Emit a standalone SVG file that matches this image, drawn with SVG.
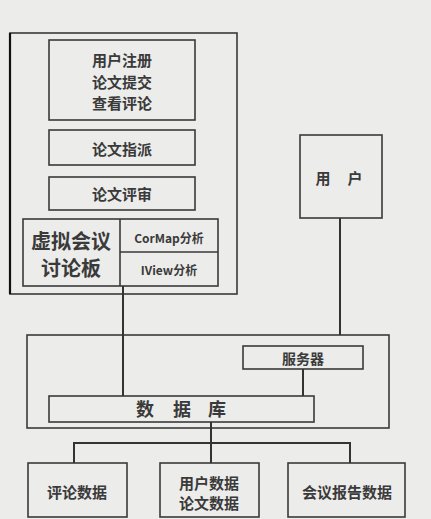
<svg xmlns="http://www.w3.org/2000/svg" width="431" height="519" viewBox="0 0 431 519">
<style>
.b{fill:none;stroke:#3a3a3a;stroke-width:1.6}
.l{stroke:#333;stroke-width:2;fill:none}
text{font-family:"Noto Sans CJK SC","Noto Sans",sans-serif;font-weight:bold;fill:#3a3a3a;text-anchor:middle;dominant-baseline:central}
.t16{font-size:15px}
.t20{font-size:20px}
.t13{font-size:12px}
</style>
<rect width="431" height="519" fill="#ececea"/>
<g id="client">
<rect class="b" x="10" y="33" width="227" height="261"/>
<path d="M10 33V294" stroke="#111" stroke-width="2.2"/>
</g>
<g id="register">
<rect class="b" x="49" y="40" width="146" height="80"/>
<text class="t16" x="122" y="59">用户注册</text>
<text class="t16" x="122" y="81">论文提交</text>
<text class="t16" x="122" y="102">查看评论</text>
</g>
<g id="assign">
<rect class="b" x="49" y="130" width="146" height="35"/>
<text class="t16" x="122" y="148">论文指派</text>
</g>
<g id="review">
<rect class="b" x="49" y="177" width="146" height="33"/>
<text class="t16" x="122" y="193">论文评审</text>
</g>
<g id="forum">
<rect class="b" x="23" y="219" width="195" height="67"/>
<path class="b" d="M120 219V286M120 252H218"/>
<text class="t20" x="71" y="240">虚拟会议</text>
<text class="t20" x="71" y="267">讨论板</text>
<text class="t13" x="169" y="237">CorMap分析</text>
<text class="t13" x="169" y="269">IView分析</text>
</g>
<g id="user">
<rect class="b" x="300" y="135" width="82" height="83"/>
<text class="t16" x="323" y="177">用</text>
<text class="t16" x="355" y="177">户</text>
</g>
<g id="server-area">
<rect class="b" x="27" y="335" width="362" height="93"/>
</g>
<g id="server">
<rect class="b" x="243" y="346" width="120" height="23"/>
<text class="t16" x="303" y="358" style="font-size:14px">服务器</text>
</g>
<g id="db">
<rect class="b" x="49" y="396" width="265" height="26"/>
<text class="t16" x="145" y="408" style="font-size:18px">数</text>
<text class="t16" x="182" y="408" style="font-size:18px">据</text>
<text class="t16" x="217" y="408" style="font-size:18px">库</text>
</g>
<g id="comments">
<rect class="b" x="28" y="463" width="99" height="54"/>
<text class="t16" x="77" y="491">评论数据</text>
</g>
<g id="userdata">
<rect class="b" x="160" y="463" width="99" height="54"/>
<text class="t16" x="209" y="482">用户数据</text>
<text class="t16" x="209" y="502">论文数据</text>
</g>
<g id="report">
<rect class="b" x="288" y="463" width="117" height="54"/>
<text class="t16" x="347" y="491">会议报告数据</text>
</g>
<g id="connectors">
<path class="l" d="M123 286V396"/>
<path class="l" d="M340 218V335"/>
<path class="l" d="M303 369V396"/>
<path class="l" d="M211 422V463"/>
<path class="l" d="M74 463V443H350V463"/>
</g>
</svg>
